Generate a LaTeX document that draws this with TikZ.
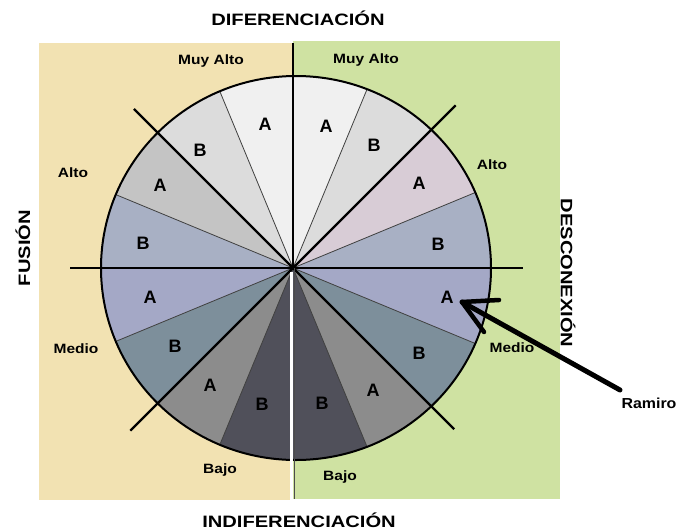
\documentclass[tikz,border=0pt]{standalone}
\usepackage{fontspec}
\setmainfont{Liberation Sans}
\usepackage{graphicx}
\usetikzlibrary{calc}
\definecolor{panY}{HTML}{F2E2B2}
\definecolor{panG}{HTML}{CFE2A2}
\definecolor{cW}{HTML}{F0F0F0}
\definecolor{cL}{HTML}{DCDCDC}
\definecolor{cG}{HTML}{C4C4C4}
\definecolor{cPk}{HTML}{D8CCD6}
\definecolor{cBG}{HTML}{A8B0C4}
\definecolor{cLav}{HTML}{A4A8C6}
\definecolor{cSl}{HTML}{7D8F9B}
\definecolor{cGr}{HTML}{8C8C8C}
\definecolor{cDk}{HTML}{50505A}
\newcommand{\stretchtxt}[2]{\scalebox{#1}[1]{#2}}
\tikzset{
  title/.style={inner sep=0pt, font=\bfseries\fontsize{16.5}{16.5}\selectfont},
  lbl/.style={inner sep=0pt, font=\bfseries\fontsize{13.5}{13.5}\selectfont},
  letter/.style={inner sep=0pt, font=\bfseries\fontsize{18}{18}\selectfont},
  heavy/.style={line width=2.2pt, black},
  thinsep/.style={line width=0.8pt, black!75}
}
\begin{document}
\begin{tikzpicture}[x=1pt,y=-1pt]
\useasboundingbox (0,0) rectangle (694,531);
\fill[white] (0,0) rectangle (694,531);
\fill[panY] (39,43) rectangle (293,500);
\fill[panG] (293,41) rectangle (560,499);
\coordinate (F) at (293,268);
\coordinate (O) at (296,268);
\begin{scope}
  \clip (O) ellipse [x radius=195pt, y radius=192pt];
  \foreach \s/\c in {90/cW,112.5/cL,135/cG,157.5/cBG,180/cLav,202.5/cSl,225/cGr,247.5/cDk,
                     67.5/cW,45/cL,22.5/cPk,0/cBG,-22.5/cLav,-45/cSl,-67.5/cGr,-90/cDk}
    \fill[\c] (F) -- ($(F)+(-\s:300)$) -- ($(F)+(-\s-22.5:300)$) -- cycle;
  \foreach \a in {22.5,67.5,112.5,157.5,202.5,247.5,292.5,337.5}
    \draw[thinsep] (F) -- ($(F)+(-\a:300)$);
\end{scope}
\draw[line width=2pt] (O) ellipse [x radius=195pt, y radius=192pt];
% heavy lines
\coordinate (d1) at ($(F)+(-135:225)$);
\coordinate (d2) at ($(F)+(-45:230)$);
\coordinate (d3) at ($(F)+(-225:230)$);
\coordinate (d4) at ($(F)+(-315:228)$);
\coordinate (h1) at (70,268);
\coordinate (h2) at (523,268);
\coordinate (v1) at (293,43);
\coordinate (v2) at (291.5,500);
\coordinate (v3) at (294.5,499);
\draw[heavy] (d1) -- (F);
\draw[heavy] (d2) -- (F);
\draw[heavy] (d3) -- (F);
\draw[heavy] (d4) -- (F);
\draw[heavy] (h1) -- (h2);
\draw[heavy] (v1) -- (F);
\draw[white, line width=3pt] (F) ++(-1.5,4) -- (v2);
\draw[black!70, line width=1.6pt] (F) ++(1.5,0) -- (v3);
% titles
\node[title] (tTop) at (298,18) {\stretchtxt{1.22}{DIFERENCIACIÓN}};
\node[title] (tBot) at (299,520) {\stretchtxt{1.22}{INDIFERENCIACIÓN}};
\node[title, rotate=90] (tLeft) at (23,248) {\stretchtxt{1.22}{FUSIÓN}};
\node[title, rotate=-90] (tRight) at (568,273) {\stretchtxt{1.22}{DESCONEXIÓN}};
% level labels
\node[lbl] (mal) at (211,61) {\stretchtxt{1.15}{Muy Alto}};
\node[lbl] (mar) at (366,60) {\stretchtxt{1.15}{Muy Alto}};
\node[lbl] (al) at (73,173) {\stretchtxt{1.15}{Alto}};
\node[lbl] (ar) at (492,165) {\stretchtxt{1.15}{Alto}};
\node[lbl] (ml) at (76,349) {\stretchtxt{1.15}{Medio}};
\node[lbl] (mr) at (512,348) {\stretchtxt{1.15}{Medio}};
\node[lbl] (bl) at (220,470) {\stretchtxt{1.15}{Bajo}};
\node[lbl] (br) at (340,477) {\stretchtxt{1.15}{Bajo}};
\node[lbl, font=\bfseries\fontsize{14.5}{14.5}\selectfont] (ram) at (649,403) {\stretchtxt{1.1}{Ramiro}};
% sector letters
\node[letter] (l1) at (265,124) {A};
\node[letter] (l2) at (200,150) {B};
\node[letter] (l3) at (160,185) {A};
\node[letter] (l4) at (143,243) {B};
\node[letter] (l5) at (150,297) {A};
\node[letter] (l6) at (175,346) {B};
\node[letter] (l7) at (210,385) {A};
\node[letter] (l8) at (262,404) {B};
\node[letter] (r1) at (326,126) {A};
\node[letter] (r2) at (374,145) {B};
\node[letter] (r3) at (419,183) {A};
\node[letter] (r4) at (438,244) {B};
\node[letter] (r5) at (447,297) {A};
\node[letter] (r6) at (419,353) {B};
\node[letter] (r7) at (373,390) {A};
\node[letter] (r8) at (322,403) {B};
% arrow
\coordinate (tail) at (620,390);
\coordinate (tip) at (462,302);
\coordinate (barbA) at (499,300);
\coordinate (barbB) at (484,332);
\draw[line width=5pt, line cap=round] (tail) -- (tip);
\draw[line width=4.5pt, line cap=round, line join=round] (barbA) -- (tip) -- (barbB);
\end{tikzpicture}
\end{document}
